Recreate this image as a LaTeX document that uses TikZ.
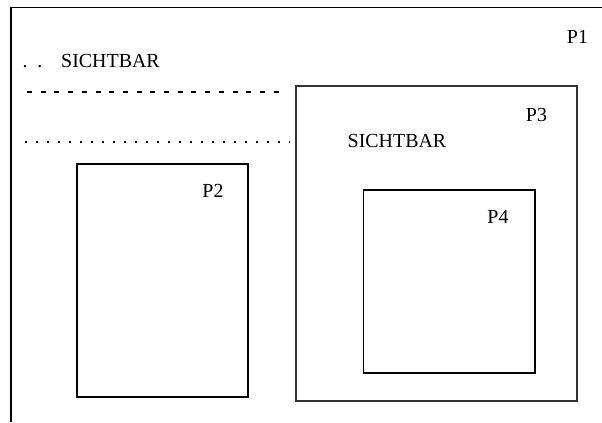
\documentclass[tikz,border=0pt]{standalone}
\usepackage{fontspec}
\setmainfont{Liberation Serif}
\begin{document}
\begin{tikzpicture}[x=1bp,y=-1bp,
  box/.style={draw=black,line width=1.7bp,inner sep=0pt,anchor=north west},
  lbl/.style={font=\fontsize{20}{22}\selectfont,inner sep=0pt,anchor=base},
  frame/.style={line width=1.7bp}]
\useasboundingbox (0,0) rectangle (602,422);
% outer frame (left and top edges)
\coordinate (fbl) at (11,422);
\coordinate (ftl) at (11,7.5);
\coordinate (ftr) at (602,7.5);
\draw[frame] (fbl) -- (ftl) -- (ftr);
% boxes
\node[box,minimum width=171bp,minimum height=233bp] (p2) at (76,163) {};
\node[box,draw=black!80,line width=2bp,minimum width=281bp,minimum height=315bp] (p3) at (295,85) {};
\node[box,minimum width=171.5bp,minimum height=183bp] (p4) at (362.7,189.3) {};
% labels
\node[lbl] (l1) at (577.5,43) {P1};
\node[lbl] (l2) at (213,197) {P2};
\node[lbl] (l3) at (536.5,121) {P3};
\node[lbl] (l4) at (498,223) {P4};
\node[lbl] (s1) at (110.5,67) {SICHTBAR};
\node[lbl] (s3) at (397,147) {SICHTBAR};
\node[lbl] (dd) at (32.5,67) {.\ \ .};
% dashed and dotted lines
\coordinate (da) at (27,91.7);
\coordinate (db) at (287,91.7);
\coordinate (dta) at (25,141.7);
\coordinate (dtb) at (290,141.7);
\draw[line width=1.7bp,dash pattern=on 5bp off 8.7bp] (da) -- (db);
\draw[line width=1.6bp,dash pattern=on 1.6bp off 9.4bp] (dta) -- (dtb);
\end{tikzpicture}
\end{document}
